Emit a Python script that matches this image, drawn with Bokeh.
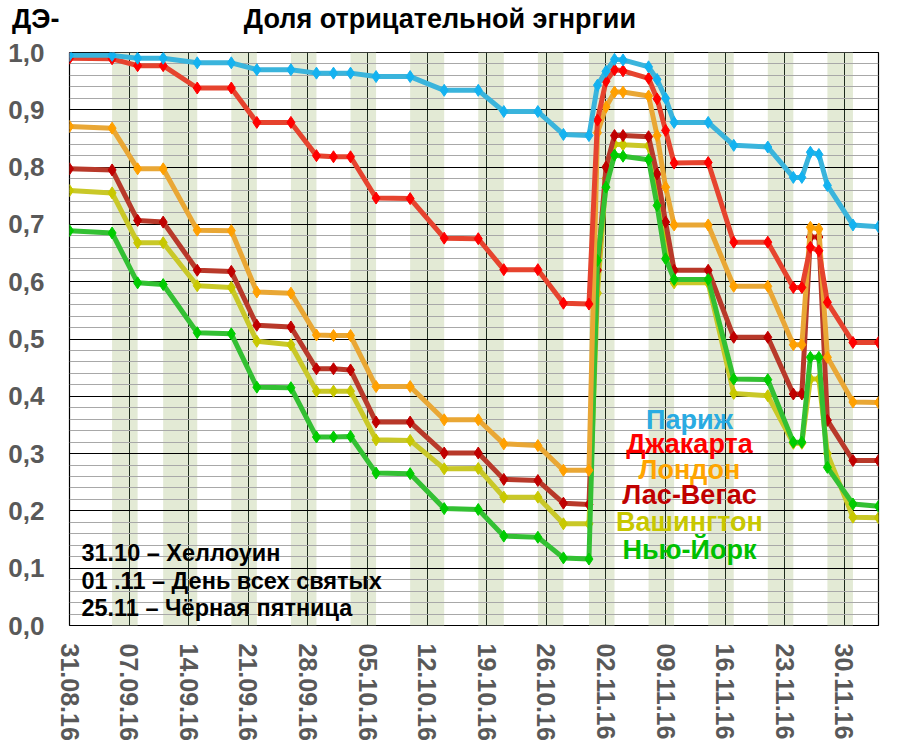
import pandas as pd
from bokeh.plotting import figure
from bokeh.models import FixedTicker, Label, Range1d, CustomJSTickFormatter, LinearAxis
from bokeh.embed import file_html
from bokeh.resources import INLINE

start = pd.Timestamp("2016-08-31")

dates = ["2016-08-31", "2016-09-05", "2016-09-08", "2016-09-11", "2016-09-15",
         "2016-09-19", "2016-09-22", "2016-09-26", "2016-09-29", "2016-10-01",
         "2016-10-03", "2016-10-06", "2016-10-10", "2016-10-14", "2016-10-18",
         "2016-10-21", "2016-10-25", "2016-10-28", "2016-10-31",
         "2016-11-01", "2016-11-02", "2016-11-03", "2016-11-04", "2016-11-07",
         "2016-11-08", "2016-11-09", "2016-11-10",
         "2016-11-14", "2016-11-17", "2016-11-21", "2016-11-24", "2016-11-25",
         "2016-11-26", "2016-11-27", "2016-11-28", "2016-12-01", "2016-12-04"]

paris = [0.995, 0.995, 0.990, 0.990, 0.982, 0.982, 0.970, 0.970, 0.964, 0.964,
         0.964, 0.958, 0.958, 0.934, 0.934, 0.897, 0.897, 0.857, 0.855,
         0.943, 0.967, 0.988, 0.987, 0.975, 0.953, 0.920, 0.878,
         0.878, 0.838, 0.835, 0.782, 0.782, 0.826, 0.822, 0.768, 0.699, 0.696]
jakarta = [0.990, 0.989, 0.977, 0.977, 0.938, 0.938, 0.878, 0.878, 0.820, 0.818,
           0.818, 0.746, 0.745, 0.676, 0.675, 0.621, 0.621, 0.5625, 0.561,
           0.882, 0.950, 0.970, 0.968, 0.955, 0.919, 0.864, 0.807,
           0.808, 0.669, 0.669, 0.590, 0.590, 0.660, 0.654, 0.564, 0.494, 0.494]
london = [0.871, 0.868, 0.797, 0.797, 0.690, 0.689, 0.582, 0.580, 0.507, 0.506,
          0.506, 0.417, 0.417, 0.359, 0.359, 0.317, 0.314, 0.271, 0.271,
          0.860, 0.905, 0.931, 0.931, 0.924, 0.855, 0.765, 0.699,
          0.699, 0.592, 0.592, 0.490, 0.490, 0.695, 0.692, 0.468, 0.390, 0.389]
las_vegas = [0.797, 0.795, 0.707, 0.704, 0.620, 0.618, 0.524, 0.521, 0.448, 0.448,
             0.446, 0.355, 0.355, 0.301, 0.301, 0.255, 0.253, 0.2135, 0.211,
             0.620, 0.800, 0.855, 0.855, 0.853, 0.788, 0.704, 0.620,
             0.620, 0.503, 0.503, 0.404, 0.404, 0.678, 0.678, 0.358, 0.288, 0.288]
washington = [0.759, 0.755, 0.668, 0.668, 0.593, 0.590, 0.496, 0.490, 0.409, 0.409,
              0.409, 0.324, 0.323, 0.2735, 0.274, 0.224, 0.224, 0.1775, 0.1775,
              0.580, 0.780, 0.840, 0.839, 0.837, 0.770, 0.680, 0.598,
              0.598, 0.405, 0.401, 0.318, 0.318, 0.430, 0.430, 0.300, 0.189, 0.188]
new_york = [0.689, 0.685, 0.598, 0.595, 0.511, 0.509, 0.416, 0.415, 0.329, 0.329,
            0.330, 0.266, 0.265, 0.204, 0.2025, 0.156, 0.154, 0.118, 0.116,
            0.637, 0.765, 0.821, 0.819, 0.813, 0.733, 0.640, 0.604,
            0.604, 0.430, 0.429, 0.320, 0.320, 0.468, 0.468, 0.276, 0.212, 0.208]

band_start = ["2016-09-05", "2016-09-11", "2016-09-19", "2016-09-26", "2016-10-03",
              "2016-10-10", "2016-10-18", "2016-10-25", "2016-10-31", "2016-11-07",
              "2016-11-14", "2016-11-21", "2016-11-28"]
band_end = ["2016-09-08", "2016-09-15", "2016-09-22", "2016-09-29", "2016-10-06",
            "2016-10-14", "2016-10-21", "2016-10-28", "2016-11-03", "2016-11-10",
            "2016-11-17", "2016-11-24", "2016-12-01"]

tick_dates = ["2016-08-31", "2016-09-07", "2016-09-14", "2016-09-21", "2016-09-28",
              "2016-10-05", "2016-10-12", "2016-10-19", "2016-10-26", "2016-11-02",
              "2016-11-09", "2016-11-16", "2016-11-23", "2016-11-30"]
tick_labels = ["31.08.16", "07.09.16", "14.09.16", "21.09.16", "28.09.16",
               "05.10.16", "12.10.16", "19.10.16", "26.10.16", "02.11.16",
               "09.11.16", "16.11.16", "23.11.16", "30.11.16"]
y_ticks = [0.0, 0.1, 0.2, 0.3, 0.4, 0.5, 0.6, 0.7, 0.8, 0.9, 1.0]

names = ["Париж", "Джакарта", "Лондон", "Лас-Вегас", "Вашингтон", "Нью-Йорк"]
notes = ["31.10 – Хеллоуин", "01 .11 – День всех святых", "25.11 – Чёрная пятница"]
title_text = "Доля отрицательной эгнргии"
unit_text = "ДЭ-"


def day(d):
    return (pd.Timestamp(d) - start).days


x = [day(d) for d in dates]
x_end = x[-1]

FONT = "Liberation Sans"

p = figure(width=898, height=750, output_backend="svg", toolbar_location=None,
           x_range=Range1d(0, x_end), y_range=Range1d(0, 1.0),
           min_border_left=69, min_border_right=20, min_border_top=52,
           min_border_bottom=125)
p.background_fill_color = "white"
p.border_fill_color = "white"
p.outline_line_color = "black"
p.outline_line_width = 1.2

bottom_axis = p.below[0]
left_axis = p.left[0]

# shaded bands
p.quad(left=[day(d) for d in band_start], right=[day(d) for d in band_end],
       bottom=0, top=1.0, fill_color="#e3ead5", line_color=None, level="image")

# axes / grids
xt = [day(d) for d in tick_dates]
bottom_axis.ticker = FixedTicker(ticks=xt)
bottom_axis.major_label_overrides = {t: l for t, l in zip(xt, tick_labels)}
bottom_axis.major_label_orientation = "vertical"
p.xgrid.ticker = FixedTicker(ticks=xt)
p.xgrid.grid_line_color = "#1c2a1c"
p.xgrid.grid_line_width = 1

minor = [i / 50 for i in range(51) if i % 5 != 0]
yticker = FixedTicker(ticks=y_ticks, minor_ticks=minor)
left_axis.ticker = yticker
p.ygrid.ticker = yticker
left_axis.formatter = CustomJSTickFormatter(code="return tick.toFixed(1).replace('.', ',');")
p.ygrid.grid_line_color = "black"
p.ygrid.grid_line_width = 1
p.ygrid.minor_grid_line_color = "#a8a8a8"
p.ygrid.minor_grid_line_width = 1

for ax in (bottom_axis, left_axis):
    ax.axis_line_color = None
    ax.major_tick_line_color = None
    ax.minor_tick_line_color = None
    ax.major_label_text_font = FONT
    ax.major_label_text_font_style = "bold"
    ax.major_label_text_color = "#595959"
left_axis.major_label_text_font_size = "26px"
bottom_axis.major_label_text_font_size = "25px"
left_axis.major_label_standoff = 19
bottom_axis.major_label_standoff = 12

# title row: an axis above the frame carries the unit label and the chart title
title_axis = LinearAxis(ticker=FixedTicker(ticks=[0, 43.5]),
                        major_label_overrides={0: unit_text + "\u00a0" * 9, 43.5: title_text})
title_axis.axis_line_color = None
title_axis.major_tick_line_color = None
title_axis.minor_tick_line_color = None
title_axis.major_label_text_font = FONT
title_axis.major_label_text_font_style = "bold"
title_axis.major_label_text_font_size = "27px"
title_axis.major_label_text_color = "black"
title_axis.major_label_standoff = 13
p.add_layout(title_axis, "above")

series = [
    (washington, "#c9c828", "#c8c800"),
    (las_vegas, "#b8392a", "#c00000"),
    (new_york, "#33c033", "#00cc00"),
    (london, "#e9a735", "#ffa000"),
    (jakarta, "#e6432e", "#ff0000"),
    (paris, "#3ab4dc", "#14b2f0"),
]
for vals, lc, mc in series:
    p.line(x, vals, line_color=lc, line_width=5, line_join="round")
    p.scatter(x, vals, marker="diamond", size=12, fill_color=mc, line_color=mc)

# legend texts
leg_colors = ["#29abe2", "#ff0000", "#ffa500", "#c00000", "#c8c800", "#00c000"]
leg_y = [0.3595, 0.3176, 0.272, 0.227, 0.180, 0.1326]
for name, c, yy in zip(names, leg_colors, leg_y):
    p.add_layout(Label(x=72.8, y=yy, text=name, text_font=FONT, text_font_style="bold",
                       text_font_size="27px", text_color=c, text_align="center",
                       text_baseline="middle"))

note_y = [0.1257, 0.0768, 0.0297]
for t, yy in zip(notes, note_y):
    p.add_layout(Label(x=1.4, y=yy, text=t, text_font=FONT, text_font_style="bold",
                       text_font_size="23.5px", text_color="black", text_align="left",
                       text_baseline="middle"))

open("out.html", "w").write(file_html(p, INLINE))
